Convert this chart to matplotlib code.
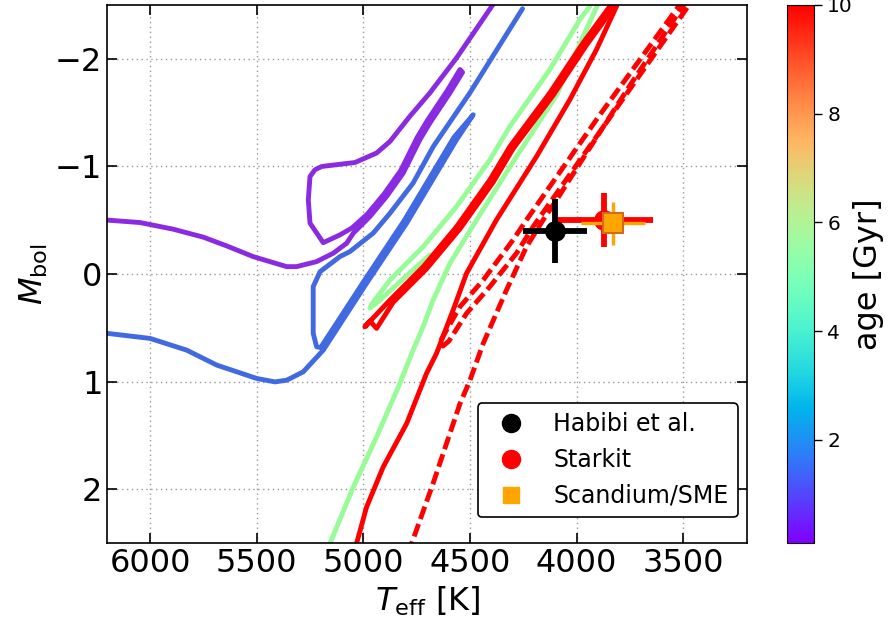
import numpy as np
import matplotlib
matplotlib.use('Agg')
import matplotlib.pyplot as plt
from matplotlib.lines import Line2D

# isochrone tracks (Teff [K], M_bol)
purple_T = [6230, 6047, 5891, 5750, 5641, 5516, 5359, 5313, 5219, 5141, 5078, 5047, 4969, 4891,
            4813, 4735, 4688, 4594, 4535, 4547, 4606, 4700, 4747, 4825, 4903, 4981, 5053, 5110,
            5188, 5250, 5258, 5250, 5227, 5195, 5039, 4938, 4875, 4782, 4688, 4563, 4392, 4340]
purple_M = [-0.505, -0.478, -0.416, -0.342, -0.261, -0.161, -0.068, -0.068, -0.115, -0.193, -0.286,
            -0.379, -0.534, -0.720, -0.938, -1.248, -1.403, -1.683, -1.874, -1.900, -1.706, -1.426,
            -1.271, -0.961, -0.743, -0.557, -0.428, -0.363, -0.291, -0.472, -0.689, -0.906, -0.968,
            -0.999, -1.036, -1.124, -1.232, -1.465, -1.683, -2.008, -2.505, -2.60]

blue_T = [6230, 6000, 5828, 5687, 5500, 5414, 5359, 5282, 5188, 4985, 4797, 4563, 4485, 4575, 4809,
          4996, 5200, 5219, 5235, 5235, 5235, 5203, 5110, 5063, 4954, 4875, 4767, 4672, 4500, 4254]
blue_M = [0.545, 0.599, 0.708, 0.847, 0.971, 1.003, 0.987, 0.910, 0.708, 0.087, -0.472, -1.248,
          -1.480, -1.271, -0.495, 0.063, 0.684, 0.677, 0.552, 0.242, 0.118, -0.021, -0.161, -0.208,
          -0.379, -0.565, -0.844, -1.185, -1.685, -2.465]

green_rgb_T = [5171, 5157, 5047, 4938, 4829, 4767, 4720, 4673, 4594, 4469, 4282, 4095, 3901, 3879]
green_rgb_M = [2.60, 2.507, 1.980, 1.515, 1.018, 0.708, 0.491, 0.242, -0.100, -0.503, -1.092,
               -1.660, -2.505, -2.60]
green_hb_T = [4688, 4829, 4932, 4969, 4960, 4875, 4719, 4563, 4407, 4313, 4126, 3985, 3938, 3915]
green_hb_M = [-0.177, 0.074, 0.261, 0.317, 0.279, 0.056, -0.254, -0.627, -1.061, -1.372, -1.899,
              -2.365, -2.489, -2.60]

red_rgb_T = [5050, 5032, 4985, 4907, 4797, 4704, 4657, 4579, 4516, 4376, 4188, 4032, 3907, 3813, 3795]
red_rgb_M = [2.60, 2.507, 2.167, 1.794, 1.390, 0.925, 0.738, 0.335, -0.007, -0.503, -1.092, -1.620,
             -2.086, -2.489, -2.60]
red_hb_T = [3812, 3844, 3970, 4126, 4313, 4407, 4563, 4719, 4875, 4993, 4969, 4938, 4860, 4704,
            4547, 4391, 4298, 4110, 3954, 3829, 3797]
red_hb_M = [-2.588, -2.489, -2.148, -1.683, -1.185, -0.875, -0.440, -0.068, 0.242, 0.491, 0.438,
            0.506, 0.263, -0.047, -0.419, -0.854, -1.164, -1.661, -2.127, -2.468, -2.57]

dash_rgb_T = [4792, 4774, 4673, 4548, 4500, 4438, 4329, 4235, 4157, 4094, 3994, 3751, 3502, 3470]
dash_rgb_M = [2.60, 2.507, 1.946, 1.210, 0.987, 0.645, 0.149, -0.254, -0.503, -0.689, -1.001,
              -1.751, -2.489, -2.60]
dash_hb_T = [3479, 3516, 3891, 4235, 4298, 4438, 4547, 4641, 4627, 4599, 4516, 4407, 4282, 4204,
             3868, 3488, 3451]
dash_hb_M = [-2.598, -2.505, -1.480, -0.503, -0.317, 0.056, 0.304, 0.630, 0.670, 0.624, 0.366,
             0.118, -0.193, -0.440, -1.387, -2.458, -2.57]

# observations
habibi_T, habibi_M, habibi_dT, habibi_dM = 4100, -0.40, 150, 0.30
starkit_T, starkit_M, starkit_dT, starkit_dM = 3870, -0.50, 230, 0.25
sme_T, sme_M, sme_dT, sme_dM = 3830, -0.47, 150, 0.20

age_min, age_max = 0.1, 10
cbar_ticks = [2, 4, 6, 8, 10]

fig = plt.figure(figsize=(8.93, 6.28), dpi=100)
ax = fig.add_axes([0.1202, 0.1354, 0.7167, 0.8567])
cax = fig.add_axes([0.8813, 0.1354, 0.0302, 0.8567])

lw = 3.5
kw = dict(lw=lw, solid_capstyle='round', solid_joinstyle='round')
ax.plot(purple_T, purple_M, color='blueviolet', **kw)
ax.plot(blue_T, blue_M, color='royalblue', **kw)
ax.plot(green_rgb_T, green_rgb_M, color='palegreen', **kw)
ax.plot(green_hb_T, green_hb_M, color='palegreen', **kw)
ax.plot(red_rgb_T, red_rgb_M, color='red', **kw)
ax.plot(red_hb_T, red_hb_M, color='red', **kw)
ax.plot(dash_rgb_T, dash_rgb_M, color='red', lw=lw, ls=(0, (2.7, 1.1)))
ax.plot(dash_hb_T, dash_hb_M, color='red', lw=lw, ls=(0, (2.7, 1.1)))

ax.errorbar(starkit_T, starkit_M, xerr=starkit_dT, yerr=starkit_dM, fmt='o', color='red',
            ms=14, elinewidth=4.2, capsize=0, zorder=5)
ax.errorbar(habibi_T, habibi_M, xerr=habibi_dT, yerr=habibi_dM, fmt='o', color='black',
            ms=14, elinewidth=4.2, capsize=0, zorder=6)
ax.errorbar(sme_T, sme_M, xerr=sme_dT, yerr=sme_dM, fmt='s', color='orange', mec='#d2691e',
            mew=1.5, ms=14, elinewidth=2.4, capsize=0, zorder=7)

handles = [Line2D([], [], ls='none', marker='o', color='black', ms=13),
           Line2D([], [], ls='none', marker='o', color='red', ms=13),
           Line2D([], [], ls='none', marker='s', color='orange', ms=11)]
leg = ax.legend(handles, ['Habibi et al.', 'Starkit', 'Scandium/SME'], loc='lower right',
                bbox_to_anchor=(1.0, 0.03), fontsize=17, framealpha=1, edgecolor='black',
                borderaxespad=0.4)
leg.get_frame().set_linewidth(1.2)

ax.set_xlim(6200, 3200)
ax.set_ylim(2.5, -2.5)
ax.set_xticks([6000, 5500, 5000, 4500, 4000, 3500])
ax.set_yticks([-2, -1, 0, 1, 2])
ax.grid(True, ls=(0, (1, 2.5)), color='0.6', lw=1)
ax.tick_params(direction='in', top=True, right=True, length=7, width=1.2, labelsize=23)
for s in ax.spines.values():
    s.set_linewidth(1.2)
ax.set_xlabel(r'$T_{\rm eff}$ [K]', fontsize=23)
ax.set_ylabel(r'$M_{\rm bol}$', fontsize=23)

sm = plt.cm.ScalarMappable(cmap='rainbow', norm=plt.Normalize(age_min, age_max))
cb = fig.colorbar(sm, cax=cax, ticks=cbar_ticks)
cb.ax.tick_params(labelsize=14.5, length=6, width=1)
cb.set_label('age [Gyr]', fontsize=23, labelpad=0)

fig.savefig('out.png', dpi=100)
